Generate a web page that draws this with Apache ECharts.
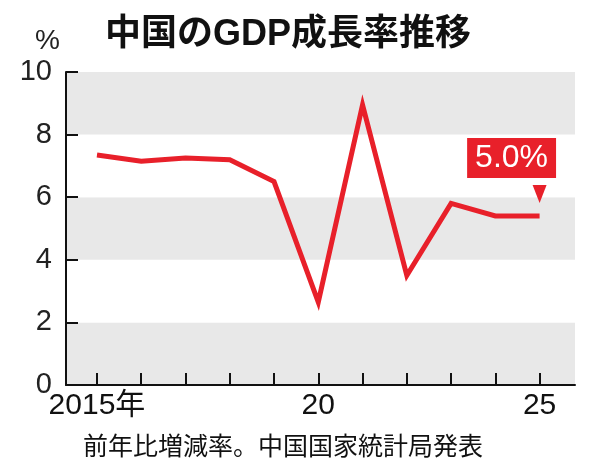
<!DOCTYPE html><html><head><meta charset="utf-8"><script src="https://cdn.jsdelivr.net/npm/echarts@6/dist/echarts.min.js"></script>
<style>body{margin:0;background:#fff}#c{width:600px;height:471px}</style></head><body><div id="c"></div><script>
const years=[2015,2016,2017,2018,2019,2020,2021,2022,2023,2024,2025];
const growth=[7.35,7.15,7.25,7.2,6.5,2.65,8.95,3.5,5.8,5.4,5.4];
const yTicks=[0,2,4,6,8,10];
const xLabels={2015:'2015年',2020:'20',2025:'25'};
const lastLabel='5.0%';
const F='"Liberation Sans","Noto Sans CJK JP",sans-serif';
const c=echarts.init(document.getElementById('c'));
c.setOption({animation:false,
title:[{text:'中国のGDP成長率推移',left:100,top:12,textStyle:{fontSize:36,fontWeight:'bold',color:'#111',fontFamily:F}},
{text:'%',left:30,top:22,textStyle:{fontSize:28,fontWeight:'normal',color:'#222',fontFamily:F}},
{text:'前年比増減率。中国国家統計局発表',left:78,top:428,textStyle:{fontSize:25,fontWeight:'normal',color:'#111',fontFamily:'"Noto Sans CJK JP",sans-serif'}}],
grid:{left:66,right:25,top:72,bottom:86},
xAxis:{type:'value',min:2014.3,max:2025.8,interval:1,
 axisLine:{lineStyle:{color:'#111',width:2}},
 axisTick:{show:true,inside:true,length:12,lineStyle:{color:'#111',width:2},customValues:years},
 axisLabel:{customValues:[2015,2020,2025],formatter:v=>xLabels[v]||'',fontSize:30,color:'#111',fontFamily:F,margin:6},
 splitLine:{show:false}},
yAxis:{type:'value',min:0,max:10,interval:2,
 axisLine:{show:true,lineStyle:{color:'#111',width:2}},
 axisTick:{show:true,inside:true,length:12,lineStyle:{color:'#111',width:2}},
 axisLabel:{fontSize:29,color:'#222',fontFamily:F,margin:14,formatter:v=>yTicks.includes(v)?String(v):''},
 splitLine:{show:false},
 splitArea:{show:true,areaStyle:{color:['#e8e8e8','#ffffff']}}},
series:[{type:'line',data:years.map((y,i)=>[y,growth[i]]),
 symbol:'none',lineStyle:{color:'#e8202a',width:5,join:'miter'},
 markPoint:{itemStyle:{color:'#e8202a'},data:[
  {coord:[2025,5.4],symbol:'triangle',symbolRotate:180,symbolSize:[14,18],symbolOffset:[0,-22],label:{show:false}},
  {coord:[2025,5.4],symbol:'rect',symbolSize:0,label:{show:true,formatter:lastLabel,position:'inside',offset:[-28,-58],backgroundColor:'#e8202a',color:'#fff',fontSize:32,fontFamily:F,padding:[5,8,3,8]}}
 ]}}]
});
</script></body></html>
